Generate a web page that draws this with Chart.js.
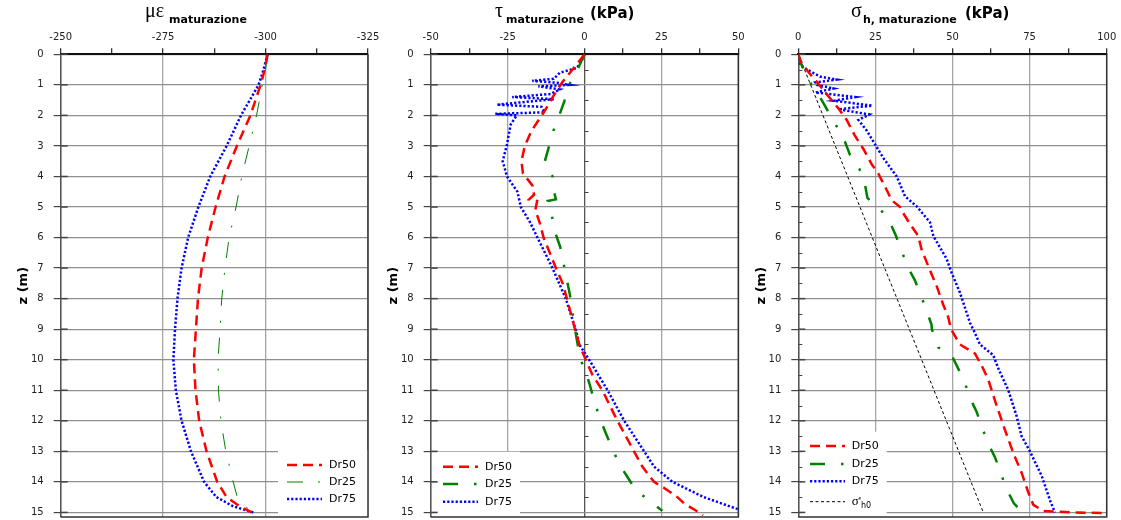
<!DOCTYPE html>
<html>
<head>
<meta charset="utf-8">
<script src="https://cdn.jsdelivr.net/npm/chart.js@4.4.1/dist/chart.umd.min.js"></script>
<style>
  body { margin: 0; background: #fff; }
  #wrap { position: relative; width: 1121px; height: 520px; overflow: hidden; font-family: "DejaVu Sans", Verdana, sans-serif; }
  canvas { position: absolute; top: 0; }
  .t { position: absolute; white-space: nowrap; line-height: 1; color: #000; }
  .gr { font-family: "Liberation Serif", "Times New Roman", serif; font-size: 20px; }
  .sb { font-weight: bold; font-size: 11px; }
  .kpa { font-weight: bold; font-size: 15px; }
</style>
</head>
<body>
<div id="wrap">
  <canvas id="c1" width="380" height="520" style="left:0px;width:380px;height:520px"></canvas>
  <canvas id="c2" width="380" height="520" style="left:370px;width:380px;height:520px"></canvas>
  <canvas id="c3" width="383" height="520" style="left:738px;width:383px;height:520px"></canvas>

  <span class="t gr" style="left:145px;top:0px">με</span>
  <span class="t sb" style="left:169px;top:13.7px">maturazione</span>

  <span class="t gr" style="left:495px;top:0px">τ</span>
  <span class="t sb" style="left:506px;top:13.7px">maturazione</span>
  <span class="t kpa" style="left:590px;top:5.6px">(kPa)</span>

  <span class="t gr" style="left:851px;top:0px">σ</span>
  <span class="t sb" style="left:863px;top:13.7px">h, maturazione</span>
  <span class="t kpa" style="left:965px;top:5.6px">(kPa)</span>
</div>
<script>
// depth (m) and values

const zTicks = [0, 1, 2, 3, 4, 5, 6, 7, 8, 9, 10, 11, 12, 13, 14, 15];

// panel 1: micro strain
const epsZ = [0, 0.5, 1, 2, 3, 4, 5, 6, 7, 8, 9, 10, 11, 12, 13, 14, 14.5, 14.8, 15];
const epsDr50 = [-300.5, -299.8, -298.8, -296.3, -293, -290, -287.8, -285.9, -284.4, -283.5, -283, -282.5, -282.9, -283.8, -285.6, -288.2, -290.5, -293.7, -296.6];
const epsDr25 = [-300.5, -300, -299.2, -297.8, -296, -294.2, -292.8, -291.1, -290.1, -289.3, -288.9, -288.4, -288.5, -289.1, -290.3, -292.1, -293.1, -295, -297];
const epsDr75 = [-300.5, -299.5, -298.3, -294, -290.5, -286.5, -283.6, -281.1, -279.5, -278.5, -277.9, -277.5, -278.1, -279.5, -281.8, -285, -288, -292.1, -297];

// panel 2: tau (kPa)
const tauDr50Z = [0, 0.5, 0.9, 1.33, 1.88, 2.5, 3, 3.5, 3.9, 4.3, 4.6, 4.75, 4.8, 5.1, 5.5, 6, 7, 7.5, 8, 9, 9.5, 10, 10.5, 11, 12, 13, 13.5, 14, 14.2, 14.5, 14.7, 15, 15.1];
const tauDr50 = [0, -3.9, -7.1, -9.9, -13.1, -17.2, -19.4, -20.5, -20, -16.9, -16.4, -18, -15.4, -16, -14.6, -13.3, -9.3, -7.1, -5.7, -3.1, -1.7, 0.4, 2.6, 5.8, 10.7, 16.1, 18.8, 22.6, 25.9, 30.2, 32.3, 37.2, 38.5];
const tauDr25Z = [0, 0.5, 1, 1.55, 2, 2.5, 3, 3.5, 4, 4.5, 4.75, 4.8, 5.3, 5.9, 6.3, 6.85, 7.4, 7.9, 8.45, 9, 9.45, 9.9, 10.4, 10.85, 11.4, 12, 12.4, 12.9, 13.4, 13.8, 14.3, 14.6, 14.95];
const tauDr25 = [0, -2.3, -5, -6.6, -8.2, -10.1, -11.5, -12.9, -10.4, -9.9, -9.3, -12, -10.6, -9.3, -7.9, -6.8, -5.7, -4.7, -3.9, -3.1, -2.3, -1.7, 0.4, 1.8, 3.3, 5.3, 6.9, 9, 11.2, 13.7, 16.9, 21, 25.3];
const tauDr75Z = [0, 0.13, 0.45, 0.6, 0.8, 0.87, 0.93, 1.0, 1.05, 1.15, 1.3, 1.4, 1.47, 1.65, 1.72, 1.9, 1.95, 2.0, 2.3, 3, 3.5, 4, 4.5, 5, 5.5, 6, 7, 8, 9, 9.5, 10, 11, 12, 13, 13.5, 14, 14.5, 14.9];
const tauDr75 = [0, -0.5, -2.5, -8, -10, -17, -9, -5, -15, -8, -11, -23.5, -10, -28.5, -14, -13, -29, -22, -24, -25.3, -26.6, -25.2, -21.8, -20.7, -17.7, -15.3, -10.4, -6.1, -2.9, -1.7, 1.5, 7.5, 12.9, 19.4, 22.6, 28.6, 38.8, 50];

// panel 3: sigma h (kPa)
const sigDr50Z = [0, 0.3, 0.57, 0.9, 1.17, 1.44, 1.77, 2.15, 2.64, 3.1, 3.6, 3.9, 4.45, 4.78, 5.0, 5.2, 5.55, 5.95, 6.4, 6.95, 7.6, 8.2, 8.6, 9.0, 9.5, 9.8, 10.2, 10.65, 11.5, 12.3, 13.05, 13.7, 14.35, 14.75, 14.95, 15.0, 15.02];
const sigDr50 = [0, 1.1, 3.2, 6, 8.1, 10.3, 13, 15.7, 18.2, 21.1, 23.8, 25.9, 28.7, 30.3, 33, 34, 36.2, 38.9, 40, 42.2, 44.9, 47, 48.6, 49.5, 52.4, 57.3, 59.5, 61.6, 64.3, 67, 69.7, 72.4, 74.6, 76.2, 79.4, 89, 100];
const sigDr25Z = [0, 0.24, 0.46, 1.0, 1.5, 1.88, 2.35, 2.86, 3.3, 3.75, 4.25, 4.7, 5.1, 5.5, 5.95, 6.5, 7.0, 7.4, 7.9, 8.4, 8.85, 9.0, 9.6, 9.85, 10.3, 10.7, 11.3, 11.7, 12.25, 12.75, 13.2, 13.7, 14.25, 14.7, 15.05];
const sigDr25 = [0, 0.55, 1.6, 4.3, 7.6, 9.7, 12.4, 15.1, 16.8, 19.8, 21.6, 22.4, 26.8, 29.7, 31.7, 33.7, 35.7, 37.8, 39.8, 41.6, 43.2, 43.3, 45.4, 49.7, 51.9, 53.8, 55.9, 57.8, 59.7, 61.6, 63.8, 65.6, 67.6, 69.9, 73.2];
const sigDr75Z = [0, 0.08, 0.35, 0.46, 0.73, 0.83, 0.92, 1.0, 1.12, 1.25, 1.4, 1.52, 1.68, 1.8, 1.97, 2.15, 2.5, 2.95, 3.4, 4.0, 4.5, 4.65, 4.98, 5.5, 5.95, 6.7, 7.15, 7.8, 8.8, 9.13, 9.5, 9.85, 10.3, 11, 11.85, 12.5, 13, 13.8, 14.6, 15];
const sigDr75 = [0, 0, 0.6, 2.2, 7, 12.5, 5.5, 6, 11.5, 5.5, 18.5, 11.5, 24, 13, 23, 19.5, 22.2, 24.9, 27.6, 31.9, 34, 34.6, 38.4, 42.7, 43.8, 48.1, 49.7, 52.4, 55.7, 57.3, 58.9, 63.2, 64.9, 68.1, 70.8, 72.4, 75.1, 78.9, 81.6, 83.2];
const sigH0Z = [0, 15];
const sigH0 = [0, 60];

const seriesNames = ['Dr50', 'Dr25', 'Dr75'];

const FONT = '"DejaVu Sans", Verdana, sans-serif';

function pts(zs, vs) {
  return zs.map((z, i) => ({ x: vs[i], y: z }));
}

const red = { borderColor: '#ff0000', borderWidth: 2.5, borderDash: [10, 6] };
const greenThin = { borderColor: '#008000', borderWidth: 1, borderDash: [16, 15, 2, 15] };
const greenThick = { borderColor: '#008000', borderWidth: 2.5, borderDash: [15, 16, 2.5, 16] };
const blue = { borderColor: '#0000ff', borderWidth: 2.5, borderDash: [2.2, 2] };
const black = { borderColor: '#000000', borderWidth: 1, borderDash: [3, 2.5] };

function line(label, zs, vs, style) {
  return { label, data: pts(zs, vs), showLine: true, pointRadius: 0, fill: false, tension: 0, ...style };
}

// white legend box inside the plot
const boxLegend = {
  id: 'boxLegend',
  afterDatasetsDraw(chart, args, opts) {
    const { ctx, chartArea: a } = chart;
    ctx.save();
    ctx.fillStyle = '#fff';
    ctx.fillRect(opts.left, opts.top, opts.right - opts.left, a.bottom - opts.top);
    chart.data.datasets.forEach((ds, i) => {
      const yy = opts.rows[i];
      ctx.strokeStyle = ds.borderColor;
      ctx.lineWidth = ds.borderWidth;
      ctx.setLineDash(ds.borderDash || []);
      ctx.beginPath();
      ctx.moveTo(opts.sx0, yy);
      ctx.lineTo(opts.sx1, yy);
      ctx.stroke();
      ctx.setLineDash([]);
      ctx.fillStyle = '#000';
      ctx.textBaseline = 'middle';
      if (ds.labelSub) {
        ctx.font = '13px "Liberation Serif", serif';
        ctx.fillText(ds.label, opts.tx, yy);
        const w = ctx.measureText(ds.label).width;
        ctx.font = '8px ' + FONT;
        ctx.fillText(ds.labelSub, opts.tx + w, yy + 4);
      } else {
        ctx.font = '11px ' + FONT;
        ctx.fillText(ds.label, opts.tx, yy);
      }
    });
    ctx.restore();
  }
};

// right/bottom border, inner tick marks
const frame = {
  id: 'frame',
  afterDraw(chart, args, opts) {
    const { ctx, chartArea: a, scales } = chart;
    ctx.save();
    ctx.strokeStyle = '#333';
    ctx.lineWidth = 1.5;
    ctx.beginPath();
    ctx.moveTo(a.right, a.top);
    ctx.lineTo(a.right, a.bottom);
    ctx.lineTo(a.left, a.bottom);
    ctx.stroke();
    ctx.strokeStyle = '#444';
    ctx.lineWidth = 1.5;
    zTicks.forEach((z) => {
      const py = scales.y.getPixelForValue(z);
      ctx.beginPath();
      ctx.moveTo(a.left, py);
      ctx.lineTo(a.left + 7, py);
      ctx.stroke();
    });
    if (opts.halfAt !== undefined) {
      const px = scales.x.getPixelForValue(opts.halfAt);
      ctx.lineWidth = 1;
      for (let z = 0.5; z < 15; z += 1) {
        const py = Math.round(scales.y.getPixelForValue(z)) + 0.5;
        ctx.beginPath();
        ctx.moveTo(px, py);
        ctx.lineTo(px + 4, py);
        ctx.stroke();
      }
    }
    ctx.restore();
  }
};

function makeChart(id, datasets, xCfg, pad, legendOpts, frameOpts) {
  return new Chart(document.getElementById(id), {
    type: 'scatter',
    data: { datasets },
    options: {
      responsive: false,
      animation: false,
      devicePixelRatio: 1,
      layout: { padding: pad },
      plugins: { legend: { display: false }, tooltip: { enabled: false }, boxLegend: legendOpts, frame: frameOpts },
      scales: {
        x: {
          type: 'linear',
          position: 'top',
          min: xCfg.min,
          max: xCfg.max,
          reverse: !!xCfg.reverse,
          afterFit: (s) => { s.height = 54.3; s.paddingLeft = 0; s.paddingRight = 0; },
          ticks: {
            stepSize: 12.5,
            autoSkip: false,
            maxRotation: 0,
            padding: 5,
            color: '#222',
            font: { family: FONT, size: 10 },
            callback: (v) => (v % 25 === 0 ? String(v) : '')
          },
          grid: {
            color: (c) => {
              const v = c.tick ? c.tick.value : null;
              if (v === xCfg.dark) return '#555';
              return v !== null && v % 25 === 0 ? '#a6a6a6' : 'rgba(0,0,0,0)';
            },
            lineWidth: 1.3,
            tickColor: '#333',
            tickLength: 6
          },
          border: { color: '#111', width: 2 }
        },
        y: {
          type: 'linear',
          min: 0,
          max: 15.15,
          reverse: true,
          afterFit: (s) => { s.width = xCfg.yWidth; s.paddingTop = 0; s.paddingBottom = 0; },
          afterBuildTicks: (s) => { s.ticks = zTicks.map((v) => ({ value: v })); },
          ticks: { padding: 10, color: '#222', font: { family: FONT, size: 10 } },
          grid: { color: '#8f8f8f', lineWidth: 1.2, tickColor: '#444', tickLength: 7 },
          border: { color: '#555', width: 1.5 },
          title: { display: true, text: 'z (m)', color: '#000', font: { family: FONT, size: 13, weight: 'bold' }, padding: { top: 16, bottom: 0 } }
        }
      }
    },
    plugins: [boxLegend, frame]
  });
}

makeChart('c1', [
  line(seriesNames[0], epsZ, epsDr50, red),
  line(seriesNames[1], epsZ, epsDr25, greenThin),
  line(seriesNames[2], epsZ, epsDr75, blue)
], { min: -325, max: -250, reverse: true, yWidth: 60.7 },
  { left: 0, right: 12, top: 0, bottom: 3 },
  { left: 278, right: 368, top: 450, sx0: 287, sx1: 322, tx: 329, rows: [465, 482, 499] },
  {});

makeChart('c2', [
  line(seriesNames[0], tauDr50Z, tauDr50, red),
  line(seriesNames[1], tauDr25Z, tauDr25, greenThick),
  line(seriesNames[2], tauDr75Z, tauDr75, blue)
], { min: -50, max: 50, yWidth: 60.7, dark: 0 },
  { left: 0, right: 11.7, top: 0, bottom: 3 },
  { left: 66.7, right: 150, top: 451.7, sx0: 73, sx1: 108, tx: 115, rows: [466.7, 484, 501.7] },
  { halfAt: 0 });

const h0 = line("σ'", sigH0Z, sigH0, black);
h0.labelSub = 'h0';
makeChart('c3', [
  line(seriesNames[0], sigDr50Z, sigDr50, red),
  line(seriesNames[1], sigDr25Z, sigDr25, greenThick),
  line(seriesNames[2], sigDr75Z, sigDr75, blue),
  h0
], { min: 0, max: 100, yWidth: 60.3 },
  { left: 0, right: 14.3, top: 0, bottom: 3 },
  { left: 63.7, right: 148.7, top: 431.7, sx0: 72, sx1: 107, tx: 113.7, rows: [446, 464, 481.3, 501.7] },
  { halfAt: 0 });
</script>
</body>
</html>
